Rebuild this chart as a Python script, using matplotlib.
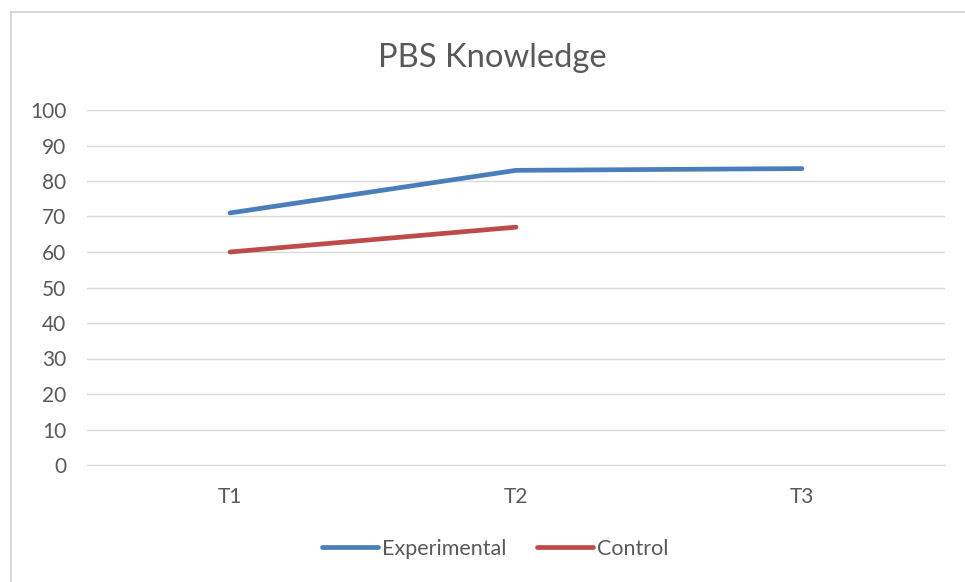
import matplotlib.pyplot as plt
from matplotlib.patches import Rectangle

# Дані
categories = ['T1', 'T2', 'T3']
experimental = [71, 83, 83.5]
control = [60, 67]
y_ticks = list(range(0, 101, 10))

plt.rcParams['font.family'] = ['Lato', 'DejaVu Sans']

W, H = 965, 582
fig = plt.figure(figsize=(W / 100, H / 100), dpi=100)

# Рамка навколо всієї діаграми (праворуч і знизу виходить за межі картинки)
fig.patches.append(Rectangle((11 / W, -0.5), 2, 1.5 - 12 / H, transform=fig.transFigure,
                             fill=False, edgecolor='#d9d9d9', linewidth=1.5))

ax = fig.add_axes([87 / W, 1 - 465 / H, (945 - 87) / W, (465 - 110) / H])

x = list(range(len(categories)))
ax.plot(x, experimental, color='#4a7ebb', linewidth=3.4, solid_capstyle='round',
        label='Experimental', zorder=3)
ax.plot(x[:len(control)], control, color='#be4b48', linewidth=3.4, solid_capstyle='round',
        label='Control', zorder=3)

ax.set_xlim(-0.5, len(categories) - 0.5)
ax.set_ylim(0, 100)
ax.set_yticks(y_ticks)
ax.set_xticks(x)
ax.set_xticklabels(categories)
ax.grid(axis='y', color='#d9d9d9', linewidth=1)
ax.set_axisbelow(True)
for side in ['top', 'right', 'left']:
    ax.spines[side].set_visible(False)
ax.spines['bottom'].set_color('#d9d9d9')
ax.tick_params(axis='both', length=0, labelsize=15, labelcolor='#595959')
ax.tick_params(axis='y', pad=15)
ax.tick_params(axis='x', pad=16)

fig.text(492 / W, 1 - 67 / H, 'PBS Knowledge', ha='center', va='baseline',
         fontsize=23.6, color='#595959')

fig.legend(loc='center', bbox_to_anchor=(495 / W, 1 - 549 / H), ncol=2, frameon=False,
           fontsize=15.5, labelcolor='#595959', handlelength=2.6, handletextpad=0.2,
           columnspacing=1.4)

fig.savefig('out.png', dpi=100)
